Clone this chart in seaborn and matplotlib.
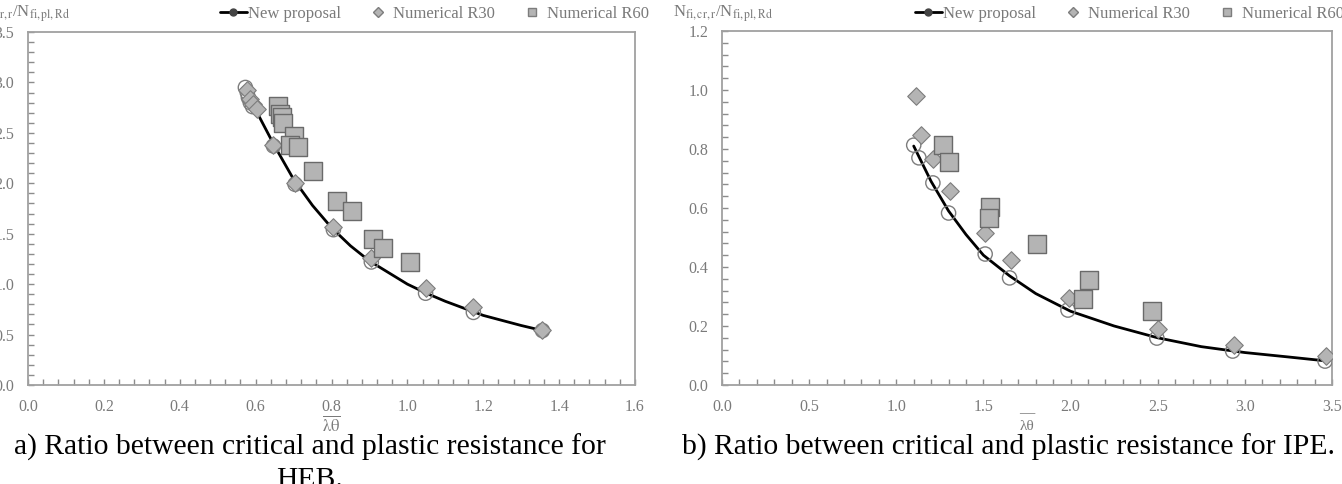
import numpy as np
import matplotlib
matplotlib.use("Agg")
import matplotlib.pyplot as plt
from matplotlib.lines import Line2D
from matplotlib.ticker import MultipleLocator, FormatStrFormatter
import seaborn as sns

# ---- data ----
# a) HEB
new_x_a = [0.573, 0.578, 0.581, 0.586, 0.592, 0.647, 0.704, 0.805, 0.905, 1.048, 1.174, 1.356]
new_y_a = [2.95, 2.90, 2.85, 2.80, 2.76, 2.37, 1.99, 1.54, 1.22, 0.91, 0.72, 0.54]
curve_x_a = [0.59, 0.65, 0.70, 0.75, 0.80, 0.85, 0.90, 1.00, 1.05, 1.10, 1.20, 1.30, 1.356]
curve_y_a = [2.80, 2.37, 2.04, 1.78, 1.56, 1.38, 1.23, 1.00, 0.91, 0.83, 0.69, 0.59, 0.54]
r30_x_a = [0.578, 0.585, 0.594, 0.604, 0.647, 0.704, 0.805, 0.905, 1.050, 1.174, 1.356]
r30_y_a = [2.92, 2.84, 2.79, 2.74, 2.38, 2.00, 1.57, 1.26, 0.96, 0.77, 0.55]
r60_x_a = [0.659, 0.663, 0.669, 0.673, 0.700, 0.691, 0.711, 0.750, 0.815, 0.855, 0.910, 0.937, 1.008]
r60_y_a = [2.77, 2.69, 2.66, 2.60, 2.47, 2.38, 2.36, 2.12, 1.82, 1.73, 1.45, 1.36, 1.22]

# b) IPE
new_x_b = [1.10, 1.13, 1.21, 1.30, 1.51, 1.65, 1.985, 2.495, 2.93, 3.46]
new_y_b = [0.813, 0.770, 0.685, 0.583, 0.444, 0.363, 0.254, 0.159, 0.115, 0.081]
curve_x_b = [1.10, 1.20, 1.30, 1.40, 1.50, 1.65, 1.80, 2.00, 2.25, 2.50, 2.75, 3.00, 3.25, 3.46]
curve_y_b = [0.81, 0.69, 0.59, 0.51, 0.44, 0.37, 0.31, 0.25, 0.20, 0.16, 0.13, 0.11, 0.095, 0.082]
r30_x_b = [1.113, 1.142, 1.21, 1.31, 1.51, 1.66, 1.99, 2.50, 2.94, 3.465]
r30_y_b = [0.98, 0.847, 0.766, 0.658, 0.515, 0.424, 0.295, 0.19, 0.136, 0.098]
r60_x_b = [1.268, 1.302, 1.538, 1.532, 1.807, 2.106, 2.07, 2.47]
r60_y_b = [0.813, 0.756, 0.603, 0.566, 0.478, 0.356, 0.292, 0.251]

labels = ["New proposal", "Numerical R30", "Numerical R60"]
caption_a = "a) Ratio between critical and plastic resistance for\nHEB."
caption_b = "b) Ratio between critical and plastic resistance for IPE."
ylab = r"N$_{\mathrm{fi,cr,r}}$/N$_{\mathrm{fi,pl,Rd}}$"

sns.set_style("white")
plt.rcParams["font.family"] = ["Liberation Serif", "DejaVu Serif"]
plt.rcParams["mathtext.fontset"] = "stix"

grey = "#8c8c8c"
txt = "#7a7a7a"
fill = "#b4b4b4"
edge = "#7d7d7d"

fig = plt.figure(figsize=(13.42, 4.84), dpi=100)
W, H = 1342, 484
ax_a = fig.add_axes([28 / W, 1 - 385 / H, (635 - 28) / W, (385 - 32) / H])
ax_b = fig.add_axes([722 / W, 1 - 385 / H, (1332 - 722) / W, (385 - 31) / H])


def draw(ax, cx, cy, nx, ny, dx, dy, sx, sy):
    sns.lineplot(x=cx, y=cy, ax=ax, color="black", lw=2.0, zorder=3, estimator=None)
    sns.scatterplot(x=nx, y=ny, ax=ax, marker="o", s=105, facecolor="none",
                    edgecolor=edge, linewidth=1.0, zorder=4)
    sns.scatterplot(x=dx, y=dy, ax=ax, marker="D", s=80, color=fill,
                    edgecolor=edge, linewidth=0.8, zorder=5)
    sns.scatterplot(x=sx, y=sy, ax=ax, marker="s", s=160, color=fill,
                    edgecolor="#6a6a6a", linewidth=1.0, zorder=6)


draw(ax_a, curve_x_a, curve_y_a, new_x_a, new_y_a, r30_x_a, r30_y_a, r60_x_a, r60_y_a)
draw(ax_b, curve_x_b, curve_y_b, new_x_b, new_y_b, r30_x_b, r30_y_b, r60_x_b, r60_y_b)

ax_a.set_xlim(0, 1.6)
ax_a.set_ylim(0, 3.5)
ax_a.xaxis.set_major_locator(MultipleLocator(0.2))
ax_a.xaxis.set_minor_locator(MultipleLocator(0.04))
ax_a.yaxis.set_major_locator(MultipleLocator(0.5))
ax_a.yaxis.set_minor_locator(MultipleLocator(0.1))

ax_b.set_xlim(0, 3.5)
ax_b.set_ylim(0, 1.2)
ax_b.xaxis.set_major_locator(MultipleLocator(0.5))
ax_b.xaxis.set_minor_locator(MultipleLocator(0.1))
ax_b.yaxis.set_major_locator(MultipleLocator(0.2))
ax_b.yaxis.set_minor_locator(MultipleLocator(0.04))

for ax in (ax_a, ax_b):
    ax.xaxis.set_major_formatter(FormatStrFormatter("%.1f"))
    ax.yaxis.set_major_formatter(FormatStrFormatter("%.1f"))
    for s in ax.spines.values():
        s.set_color("#a0a0a0")
        s.set_linewidth(1.3)
    ax.tick_params(which="both", direction="in", length=4, width=1, color=grey,
                   labelcolor=txt, labelsize=11.5, bottom=True, left=True, pad=10)
    ax.set_ylabel("")

ax_a.set_xlabel(r"$\overline{\mathrm{\lambda\theta}}$", color=txt, fontsize=12, labelpad=0)
ax_b.set_xlabel("\u2014\n\u03bb\u03b8", color=txt, fontsize=11, labelpad=-5.5, linespacing=1.0)

fig.text(70 / W, 1 - 14 / H, ylab, ha="right", va="center", color=txt, fontsize=12)
fig.text(673 / W, 1 - 14 / H, ylab, ha="left", va="center", color=txt, fontsize=12)

handles = [
    Line2D([], [], color="black", lw=2, marker="o", markersize=5,
           markerfacecolor="#444444", markeredgecolor="#444444"),
    Line2D([], [], ls="none", marker="D", markersize=5, markerfacecolor=fill,
           markeredgecolor=edge),
    Line2D([], [], ls="none", marker="s", markersize=6, markerfacecolor=fill,
           markeredgecolor=edge),
]
for ax, x0 in ((ax_a, 220), (ax_b, 915)):
    ax.legend(handles, labels, loc="center left", bbox_to_anchor=(x0 / W, 1 - 14 / H),
              bbox_transform=fig.transFigure, ncol=3, frameon=False, fontsize=12,
              labelcolor=txt, handlelength=1.6, handletextpad=0.1, columnspacing=1.4,
              borderpad=0, borderaxespad=0)

fig.text(310 / W, 1 - 434 / H, caption_a, ha="center", va="top", fontsize=21.3,
         color="black", linespacing=1.3)
fig.text(1008 / W, 1 - 455 / H, caption_b, ha="center", va="baseline", fontsize=21.3,
         color="black")

fig.savefig("out.png", dpi=100)
